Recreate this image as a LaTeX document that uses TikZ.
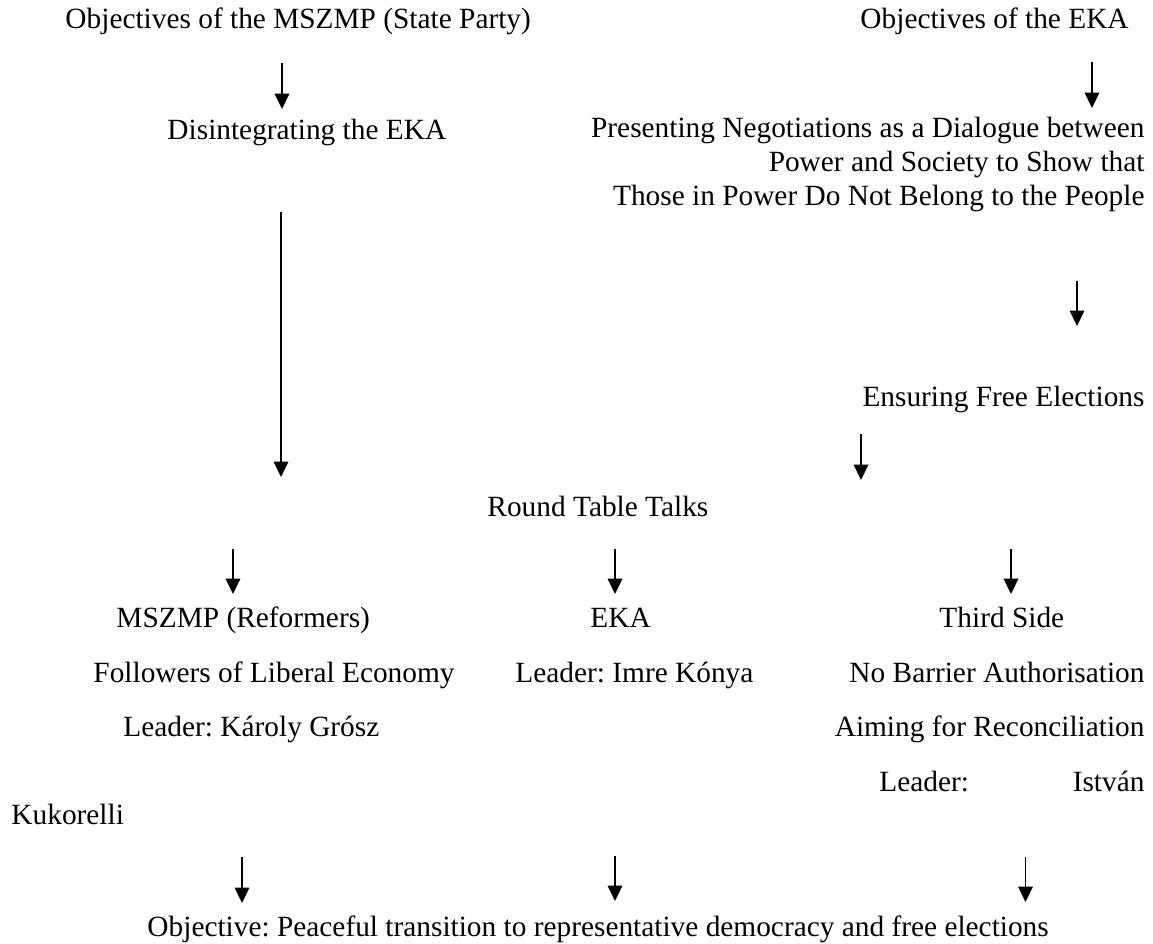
\documentclass[tikz,border=0pt]{standalone}
\usepackage{fontspec}
\setmainfont{Liberation Serif}
\usetikzlibrary{arrows.meta,positioning}
\frenchspacing

\begin{document}
\begin{tikzpicture}[x=0.4089pt,y=-0.4089pt,font=\fontsize{12pt}{13.8pt}\selectfont,
  lbl/.style={inner sep=0pt,anchor=base west},
  rlbl/.style={inner sep=0pt,anchor=base east},
  arr/.style={line width=0.5pt,-{Triangle[length=6.3pt,width=6pt]}}]
\useasboundingbox (0,0) rectangle (1153,944);
% objectives of both sides
\node[lbl] (goalmszmp) at (65,29) {Objectives of the MSZMP (State Party)};
\node[lbl] (goaleka) at (860,29) {Objectives of the EKA};
\node[lbl] (disint) at (167,140) {Disintegrating the EKA};
\node[rlbl] (dialog1) at (1145,138) {Presenting Negotiations as a Dialogue between};
\node[rlbl] (dialog2) at (1145,172) {Power and Society to Show that};
\node[rlbl] (dialog3) at (1145,206) {Those in Power Do Not Belong to the People};
\node[rlbl] (freeel) at (1145,407) {Ensuring Free Elections};
% round table and its three sides
\node[lbl] (round) at (487,517) {Round Table Talks};
\node[lbl] (reform) at (116,628) {MSZMP (Reformers)};
\node[lbl] (eka) at (590,628) {EKA};
\node[lbl] (third) at (939,628) {Third Side};
\node[lbl] (liberal) at (93,683) {Followers of Liberal Economy};
\node[lbl] (konya) at (515,683) {Leader: Imre Kónya};
\node[rlbl] (nobarrier) at (1145,683) {No Barrier Authorisation};
\node[lbl] (grosz) at (123,737) {Leader: Károly Grósz};
\node[rlbl] (reconcil) at (1145,737) {Aiming for Reconciliation};
\node[lbl] (leader3) at (879,792) {Leader:};
\node[rlbl] (istvan) at (1145,792) {István};
\node[lbl] (kukor) at (11,825) {Kukorelli};
\node[lbl] (goal) at (147,937) {Objective: Peaceful transition to representative democracy and free elections};
% arrows
\foreach \n/\x/\ya/\yb in {a/282/63/109, b/1092/62/108, c/281/212/477, d/1077/281/326,
    e/861/434/480, f/233/549/594, g/615/549/594, h/1011/549/594,
    i/242/857/903, j/615/856/901, k/1025.5/857/902}{
  \coordinate (\n top) at (\x,\ya);
  \coordinate (\n tip) at (\x,\yb);
  \draw[arr] (\n top) -- (\n tip);
}
\end{tikzpicture}
\end{document}
